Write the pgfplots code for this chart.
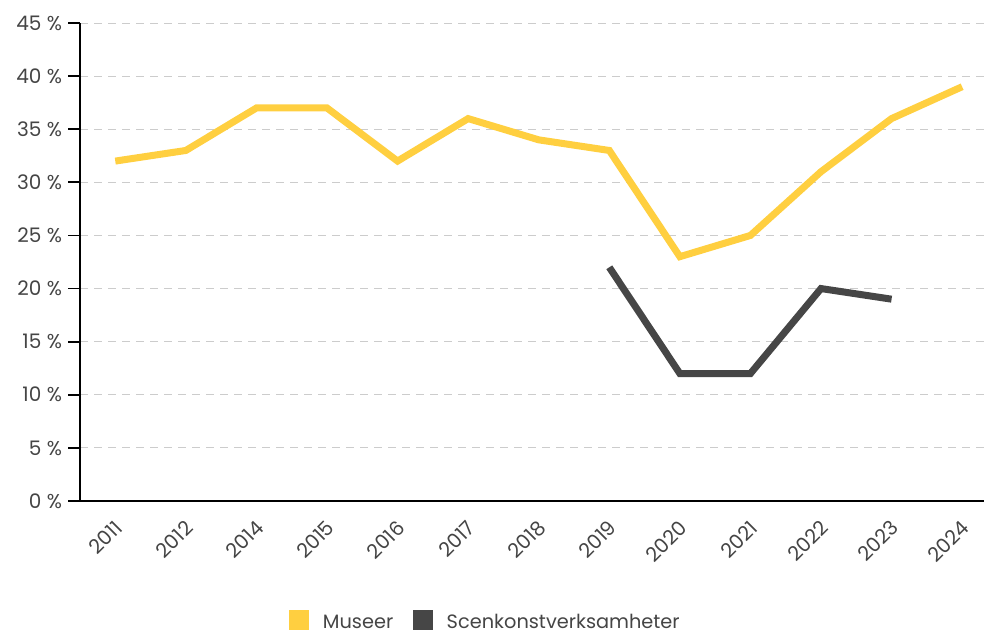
\documentclass[border=0pt]{standalone}
\usepackage{pgfplots}
\pgfplotsset{compat=1.18}
\usepackage{fontspec}
\setmainfont{Poppins}
\definecolor{museer}{HTML}{FFCF40}
\definecolor{scen}{HTML}{464646}
\definecolor{txt}{HTML}{454545}
\definecolor{gridc}{HTML}{CCCCCC}
\begin{document}
\begin{tikzpicture}
\begin{axis}[
  name=ax,
  scale only axis,
  width=678pt, height=358.5pt,
  xmin=-0.5, xmax=12.31,
  ymin=0, ymax=45,
  axis x line=bottom, axis y line=left,
  axis line style={-, black, line width=1.4pt},
  clip=false,
  font=\fontsize{15}{18}\selectfont,
  /pgf/number format/assume math mode=true,
  ytick={0,5,...,45},
  yticklabel={\pgfmathprintnumber{\tick}\hspace{4pt}\%},
  yticklabel style={text=txt, xshift=-1pt},
  ymajorgrids,
  major grid style={gridc, line width=0.7pt, dash pattern=on 6pt off 4.5pt},
  tick align=outside,
  y tick style={black, line width=1.4pt},
  major tick length=9pt,
  xtick={0,...,12},
  xticklabels={2011,2012,2014,2015,2016,2017,2018,2019,2020,2021,2022,2023,2024},
  x tick style={draw=none},
  xticklabel style={text=txt, yshift=-6pt, xshift=5pt, rotate=45, anchor=east},
  extra x ticks={0.5,1.5,...,11.5},
  extra x tick labels={},
  extra x tick style={grid=none, tick style={draw=black, line width=1.4pt}, major tick length=8pt},
  legend columns=2,
  legend style={at={(0.449,-0.222)}, anchor=north, draw=none, font=\fontsize{14.5}{17}\selectfont, text=txt,
    /tikz/every even column/.append style={column sep=13pt}},
  legend image code/.code={\fill[#1, draw=none] (0pt,-5.5pt) rectangle (15pt,9.5pt); \path (20.5pt,0pt);},
]
\addplot[color=museer, line width=5.25pt] coordinates {
(0,32) (1,33) (2,37) (3,37) (4,32) (5,36) (6,34) (7,33) (8,23) (9,25) (10,31) (11,36) (12,39)};
\addlegendentry{Museer}
\addplot[color=scen, line width=5.25pt] coordinates {
(7,22) (8,12) (9,12) (10,20) (11,19)};
\addlegendentry{Scenkonstverksamheter}
\end{axis}
\pgfresetboundingbox
\path[use as bounding box] ([xshift=-60pt,yshift=-97.5pt]ax.south west) rectangle ([yshift=17.25pt]ax.north east);
\end{tikzpicture}
\end{document}
